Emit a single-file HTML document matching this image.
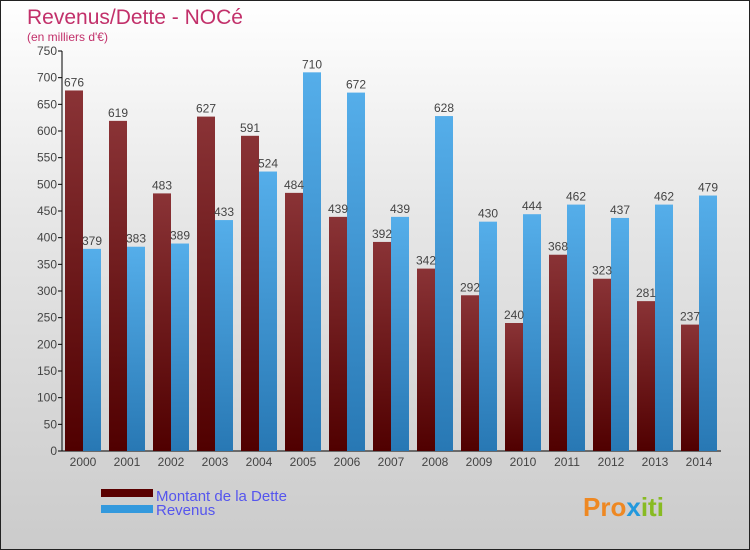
<!DOCTYPE html>
<html><head><meta charset="utf-8"><style>
body{margin:0}
#c{width:750px;height:550px;position:relative;box-sizing:border-box;border:1px solid #222;background:linear-gradient(#ffffff,#e6e6e6 40%,#cbcbcb);overflow:hidden;font-family:"Liberation Sans",sans-serif}
</style></head><body>
<div id="c">
<svg id="s" width="750" height="550" style="position:absolute;left:0;top:0">
<defs>
<linearGradient id="gd" x1="0" y1="0" x2="0" y2="1"><stop offset="0" stop-color="#8a3336"/><stop offset="1" stop-color="#500000"/></linearGradient>
<linearGradient id="gr" x1="0" y1="0" x2="0" y2="1"><stop offset="0" stop-color="#55aeea"/><stop offset="1" stop-color="#2878b4"/></linearGradient>
</defs>
<text x="26" y="23" font-size="21" fill="#c2306a">Revenus/Dette - NOCé</text>
<text x="26" y="40" font-size="12" fill="#c2306a">(en milliers d'€)</text>
<g id="g"></g>
<rect x="100" y="488" width="52" height="8" fill="#5a0000"/>
<rect x="100" y="504" width="52" height="8" fill="#3399dd"/>
<text x="155" y="500" font-size="15" fill="#5555ee">Montant de la Dette</text>
<text x="155" y="514" font-size="15" fill="#5555ee">Revenus</text>
<text x="582" y="515" font-size="26" font-weight="bold" fill="#ee8822">Pro<tspan fill="#2299dd">x</tspan><tspan fill="#88bb22">iti</tspan></text>
</svg>
</div>
<script>
const years=["2000","2001","2002","2003","2004","2005","2006","2007","2008","2009","2010","2011","2012","2013","2014"];
const dette=[676,619,483,627,591,484,439,392,342,292,240,368,323,281,237];
const revenus=[379,383,389,433,524,710,672,439,628,430,444,462,437,462,479];
const ticks=[0,50,100,150,200,250,300,350,400,450,500,550,600,650,700,750];
const g=document.getElementById('g');const NS="http://www.w3.org/2000/svg";
const y=v=>450-v*400/750;const cx=i=>82+44*i;
function mk(t,a,txt){const e=document.createElementNS(NS,t);for(const k in a)e.setAttribute(k,a[k]);if(txt!==undefined)e.textContent=txt;g.appendChild(e);return e;}
let e=mk('line',{x1:61,y1:50,x2:61,y2:450,stroke:'#000'});


e=mk('line',{x1:61,y1:450,x2:720,y2:450,stroke:'#000'});


ticks.forEach(t=>{
 e=mk('line',{x1:57,y1:y(t),x2:61,y2:y(t),stroke:'#000'});
 
 
 e=mk('text',{x:56,y:y(t)+4,'font-size':12,fill:'#444','text-anchor':'end'},t);
 
 
});
years.forEach((yr,i)=>{
 e=mk('rect',{x:cx(i)-18,y:y(dette[i]),width:18,height:450-y(dette[i]),fill:'url(#gd)'});
 
 
 e=mk('rect',{x:cx(i),y:y(revenus[i]),width:18,height:450-y(revenus[i]),fill:'url(#gr)'});
 
 
 e=mk('text',{x:cx(i)-9,y:y(dette[i])-4,'font-size':12,fill:'#444','text-anchor':'middle'},dette[i]);
 
 
 e=mk('text',{x:cx(i)+9,y:y(revenus[i])-4,'font-size':12,fill:'#444','text-anchor':'middle'},revenus[i]);
 
 
 e=mk('text',{x:cx(i),y:465,'font-size':12,fill:'#444','text-anchor':'middle'},yr);
 
 
});
</script>
</body></html>
